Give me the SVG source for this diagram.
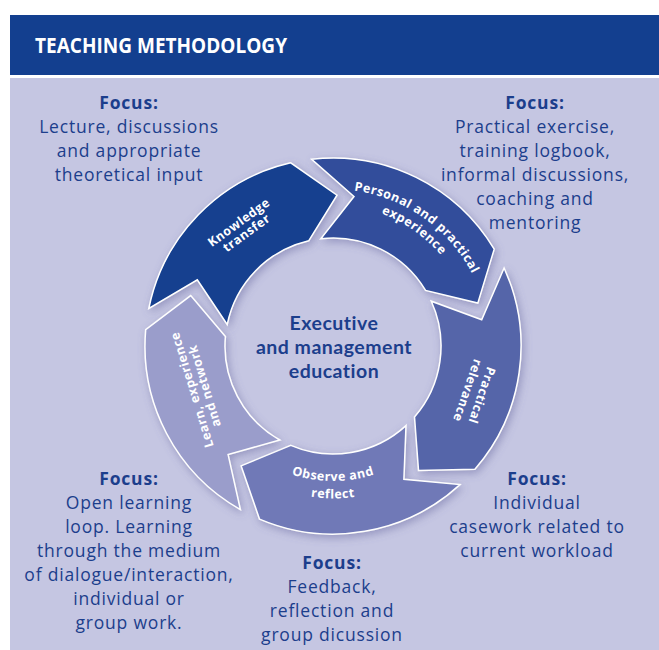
<svg xmlns="http://www.w3.org/2000/svg" width="659" height="650" viewBox="0 0 659 650">
<style>
.focus{font-family:"Open Sans","Liberation Sans",sans-serif;font-size:17.5px;fill:#1c3e8c;text-anchor:middle;letter-spacing:0.8px}
.fb{font-weight:bold}
.lbl{font-family:"Open Sans","Liberation Sans",sans-serif;font-size:12.5px;font-weight:bold;fill:#ffffff;text-anchor:middle;letter-spacing:0.5px}
.arrow{stroke:#ffffff;stroke-width:1.5;stroke-linejoin:miter;filter:url(#sh)}
.center{font-family:Lato,"Liberation Sans",sans-serif;font-size:19.5px;font-weight:bold;fill:#1c3e8c;text-anchor:middle;letter-spacing:0.5px}
</style>
<defs>
<filter id="sh" x="-20%" y="-20%" width="140%" height="140%">
<feGaussianBlur in="SourceAlpha" stdDeviation="4"/>
<feOffset dx="2" dy="3" result="b"/>
<feFlood flood-color="#5a5a96" flood-opacity="0.45"/>
<feComposite in2="b" operator="in"/>
<feMerge><feMergeNode/><feMergeNode in="SourceGraphic"/></feMerge>
</filter>
<path id="pp1" d="M319.32,189.59 A157,157 0 0 1 484.65,306.39"/>
<path id="pp2" d="M320.71,205.54 A141,141 0 0 1 469.19,309.51"/>
<path id="op1" d="M246.22,449.42 A135,135 0 0 0 419.78,449.42"/>
<path id="op2" d="M235.94,463.68 A153,153 0 0 0 430.06,463.68"/>
</defs>
<rect x="0" y="0" width="659" height="650" fill="#ffffff"/>
<g id="header">
<rect x="10" y="15" width="649" height="60" fill="#133f8f"/>
<text x="35" y="53" font-family="'Open Sans','Liberation Sans',sans-serif" font-size="20.5" font-weight="bold" fill="#ffffff" textLength="252" lengthAdjust="spacingAndGlyphs">TEACHING METHODOLOGY</text>
</g>
<rect x="10" y="78" width="649" height="572" fill="#c5c6e2"/>

<g id="knowledge-transfer">
<path class="arrow" fill="#143f8f" d="M148.8,308.5 A188,188 0 0 1 290.7,162.8 L337.0,195.1 L308.7,240.8 A108,108 0 0 0 227.2,324.5 L197.3,279.8 Z"/>
<g transform="translate(242.5,227.5) rotate(-36)">
<text class="lbl" x="0" y="-2">Knowledge</text>
<text class="lbl" x="0" y="11">transfer</text>
</g>
</g>

<g id="personal-experience">
<path class="arrow" fill="#304e9b" d="M311.7,159.2 A188,188 0 0 1 494.2,249.2 L477.8,303.1 L425.6,290.4 A108,108 0 0 0 320.8,238.7 L354.0,196.5 Z"/>
<text class="lbl"><textPath href="#pp1" startOffset="50%">Personal and practical</textPath></text>
<text class="lbl"><textPath href="#pp2" startOffset="50%">experience</textPath></text>
</g>

<g id="practical-relevance">
<path class="arrow" fill="#5565a9" d="M504.1,268.0 A188,188 0 0 1 474.9,469.3 L418.5,470.4 L414.5,416.9 A108,108 0 0 0 431.3,301.2 L481.7,319.8 Z"/>
<g transform="translate(475,393) rotate(109)">
<text class="lbl" x="0" y="-3">Practical</text>
<text class="lbl" x="0" y="12">relevance</text>
</g>
</g>

<g id="observe-reflect">
<path class="arrow" fill="#6f79b7" d="M460.0,484.6 A188,188 0 0 1 259.5,519.1 L241.1,465.8 L290.8,445.4 A108,108 0 0 0 406.0,425.6 L403.9,479.3 Z"/>
<text class="lbl"><textPath href="#op1" startOffset="50%">Observe and</textPath></text>
<text class="lbl"><textPath href="#op2" startOffset="50%">reflect</textPath></text>
</g>

<g id="learn-network">
<path class="arrow" fill="#9a9dcb" d="M240.4,509.6 A188,188 0 0 1 145.7,329.6 L190.7,295.6 L225.4,336.6 A108,108 0 0 0 279.8,440.0 L228.1,454.6 Z"/>
<g transform="translate(198,388) rotate(-107)">
<text class="lbl" x="0" y="-2">Learn, experience</text>
<text class="lbl" x="0" y="11">and network</text>
</g>
</g>

<g id="center">
<text class="center" x="334" y="330">Executive</text>
<text class="center" x="334" y="354">and management</text>
<text class="center" x="334" y="378">education</text>
</g>

<g id="focus-knowledge">
<text class="focus fb" x="129" y="109">Focus:</text>
<text class="focus" x="129" y="133">Lecture, discussions</text>
<text class="focus" x="129" y="157">and appropriate</text>
<text class="focus" x="129" y="181">theoretical input</text>
</g>
<g id="focus-personal">
<text class="focus fb" x="535" y="109">Focus:</text>
<text class="focus" x="535" y="133">Practical exercise,</text>
<text class="focus" x="535" y="157">training logbook,</text>
<text class="focus" x="535" y="181">informal discussions,</text>
<text class="focus" x="535" y="205">coaching and</text>
<text class="focus" x="535" y="229">mentoring</text>
</g>
<g id="focus-practical">
<text class="focus fb" x="537" y="485">Focus:</text>
<text class="focus" x="537" y="509">Individual</text>
<text class="focus" x="537" y="533">casework related to</text>
<text class="focus" x="537" y="557">current workload</text>
</g>
<g id="focus-observe">
<text class="focus fb" x="332" y="569">Focus:</text>
<text class="focus" x="332" y="593">Feedback,</text>
<text class="focus" x="332" y="617">reflection and</text>
<text class="focus" x="332" y="641">group dicussion</text>
</g>
<g id="focus-learn">
<text class="focus fb" x="129" y="485">Focus:</text>
<text class="focus" x="129" y="509">Open learning</text>
<text class="focus" x="129" y="533">loop. Learning</text>
<text class="focus" x="129" y="557">through the medium</text>
<text class="focus" x="129" y="581">of dialogue/interaction,</text>
<text class="focus" x="129" y="605">individual or</text>
<text class="focus" x="129" y="629">group work.</text>
</g>
<g id="connectors"></g>
</svg>
